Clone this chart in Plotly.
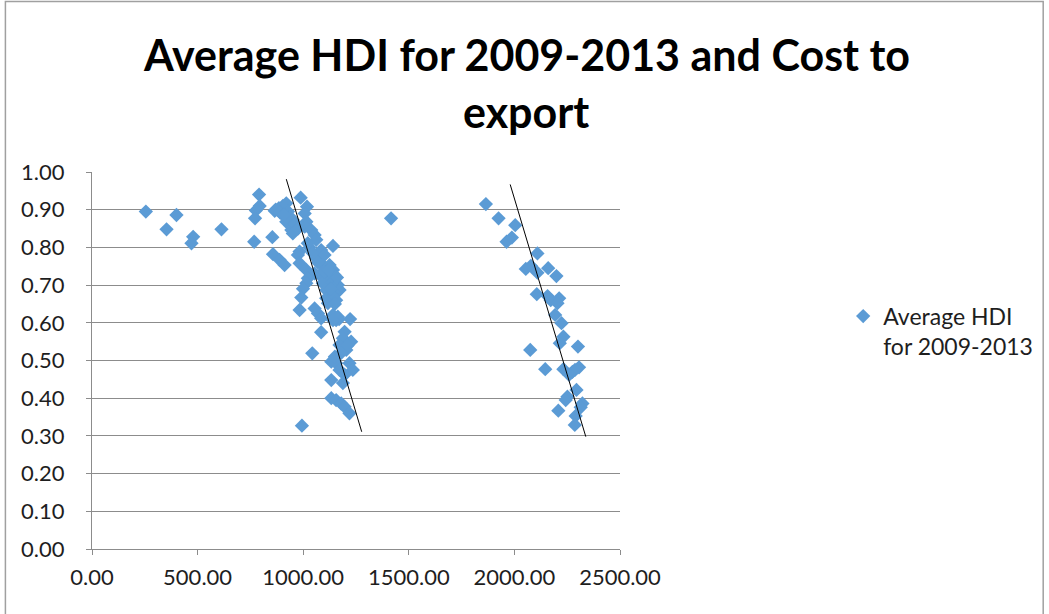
import plotly.graph_objects as go

# Cost to export (US$ per container) and average HDI 2009-2013, per country
cost_low = [255, 400, 353, 479, 471, 613,
            791, 794, 776, 772, 768, 854, 988, 1018, 865, 885, 904, 920, 896, 928,
            936, 951, 920, 944, 951, 1007, 1015, 1007, 1038, 1054, 1062, 1022, 1141,
            1085, 983, 857, 888, 912, 975, 983, 1015, 1062, 1101, 1093, 1125, 1141,
            1148, 1117, 1078, 1054, 1022, 1015, 1093, 1133, 1164, 1172, 1141, 1109,
            999, 991, 1109, 1141, 1156, 1117, 983, 1054, 1070, 1085, 1141, 1156, 1222,
            1085, 1196, 1188, 1227, 1172, 1204, 1043, 1133, 1156, 1219, 1235, 1172,
            1196, 1133, 1188, 1133, 1156, 1180, 1196, 1219, 994, 1416,
            870, 890, 910, 960, 975, 1030, 1045, 1070, 1100, 1120, 1160, 1130, 1150,
            1170, 1210, 1180, 1150, 1164, 1141]
hdi_low = [0.895, 0.886, 0.848, 0.828, 0.811, 0.848,
           0.940, 0.910, 0.898, 0.877, 0.815, 0.827, 0.932, 0.908, 0.897, 0.904, 0.910,
           0.917, 0.890, 0.895, 0.881, 0.873, 0.868, 0.846, 0.837, 0.890, 0.868, 0.855,
           0.846, 0.833, 0.820, 0.811, 0.804, 0.793, 0.789, 0.782, 0.767, 0.753, 0.780,
           0.758, 0.740, 0.771, 0.780, 0.753, 0.753, 0.740, 0.727, 0.722, 0.727, 0.731,
           0.718, 0.705, 0.705, 0.705, 0.700, 0.687, 0.682, 0.687, 0.690, 0.667, 0.665,
           0.669, 0.660, 0.652, 0.634, 0.638, 0.625, 0.612, 0.621, 0.607, 0.610,
           0.575, 0.576, 0.559, 0.550, 0.541, 0.528, 0.519, 0.497, 0.493, 0.493, 0.475,
           0.475, 0.462, 0.448, 0.440, 0.400, 0.395, 0.386, 0.377, 0.360, 0.327, 0.877,
           0.900, 0.893, 0.887, 0.862, 0.850, 0.800, 0.785, 0.760, 0.735, 0.740, 0.720,
           0.690, 0.650, 0.610, 0.540, 0.520, 0.510, 0.616, 0.607]

cost_high = [1865, 1925, 2004, 1963, 1988, 2109, 2054, 2078, 2109, 2160, 2199, 2106,
             2157, 2172, 2212, 2204, 2193, 2223, 2232, 2215, 2301, 2075, 2146, 2232,
             2275, 2306, 2287, 2259, 2294, 2251, 2243, 2322, 2314, 2208, 2290, 2286]
hdi_high = [0.915, 0.877, 0.859, 0.815, 0.826, 0.784, 0.743, 0.751, 0.733, 0.745,
            0.724, 0.676, 0.671, 0.660, 0.665, 0.652, 0.621, 0.599, 0.563, 0.546,
            0.537, 0.528, 0.477, 0.477, 0.470, 0.482, 0.475, 0.462, 0.422, 0.404,
            0.395, 0.386, 0.376, 0.367, 0.353, 0.329]

# Endpoints of the two fitted trend lines
trend1_x = [920, 1277]
trend1_y = [0.981, 0.311]
trend2_x = [1980, 2338]
trend2_y = [0.967, 0.298]

x_ticks = [0, 500, 1000, 1500, 2000, 2500]
y_ticks = [0.0, 0.1, 0.2, 0.3, 0.4, 0.5, 0.6, 0.7, 0.8, 0.9, 1.0]

title_lines = ["Average HDI for 2009-2013 and Cost to", "export"]

FONT = "Lato"
BLUE = "#5B9BD5"
GRID = "#8C8C8C"
TEXT = "#1E1E1E"
TICK_SIZE = 22

fig = go.Figure()
fig.add_trace(go.Scatter(
    x=cost_low + cost_high, y=hdi_low + hdi_high,
    mode="markers", name="Average HDI<br>for 2009-2013",
    marker=dict(symbol="diamond", size=11, color=BLUE, line=dict(width=0)),
))
for tx, ty in [(trend1_x, trend1_y), (trend2_x, trend2_y)]:
    fig.add_trace(go.Scatter(
        x=tx, y=ty, mode="lines", showlegend=False, hoverinfo="skip",
        line=dict(color="black", width=1),
    ))

# Two-line chart title placed as paper annotations
title_annots = [
    dict(text=f"<b>{line}</b>", xref="paper", yref="paper", x=xp, y=yp,
         xanchor="center", yanchor="middle", showarrow=False,
         font=dict(family=FONT, size=43, color="black"))
    for line, xp, yp in zip(title_lines, [0.822, 0.822], [1.312, 1.160])
]

fig.update_layout(
    width=1049, height=614,
    margin=dict(l=92, r=428, t=172, b=65),
    paper_bgcolor="white", plot_bgcolor="white",
    font=dict(family=FONT, color=TEXT, size=TICK_SIZE),
    showlegend=True,
    legend=dict(
        x=1.42, y=0.578, xanchor="left", yanchor="middle", valign="top",
        font=dict(family=FONT, size=23, color=TEXT),
        bgcolor="rgba(0,0,0,0)", itemwidth=30,
    ),
    xaxis=dict(
        range=[0, 2500], tickvals=x_ticks, tickformat=".2f",
        showgrid=False, zeroline=False,
        showline=True, linecolor=GRID, linewidth=1,
        ticks="outside", ticklen=5, tickcolor=GRID, ticklabelstandoff=4,
        tickfont=dict(family=FONT, size=TICK_SIZE, color=TEXT),
    ),
    yaxis=dict(
        range=[0, 1], tickvals=y_ticks, tickformat=".2f",
        showgrid=True, gridcolor=GRID, gridwidth=1, zeroline=False,
        showline=True, linecolor=GRID, linewidth=1,
        ticks="outside", ticklen=5, tickcolor=GRID, ticklabelstandoff=17,
        tickfont=dict(family=FONT, size=TICK_SIZE, color=TEXT),
    ),
    annotations=title_annots,
    shapes=[dict(
        type="rect", xref="paper", yref="paper",
        x0=-0.164, x1=1.8015, y0=-0.2, y1=1.452,
        line=dict(color="#A0A0A0", width=1.5), fillcolor="rgba(0,0,0,0)",
        layer="below",
    )],
)

fig.write_html("out.html")
